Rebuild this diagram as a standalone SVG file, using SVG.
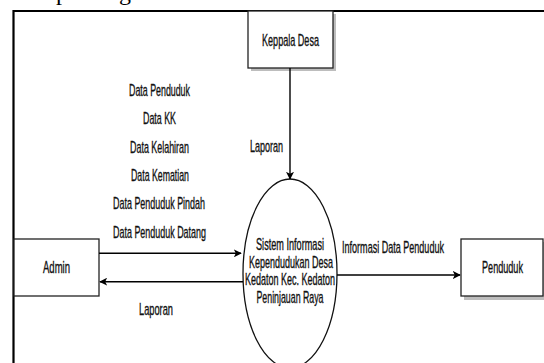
<svg xmlns="http://www.w3.org/2000/svg" width="544" height="363" viewBox="0 0 544 363">
<style>
.t{font-family:"Liberation Sans",Arial,sans-serif;font-size:16px;fill:#111;stroke:#111;stroke-width:0.35;text-anchor:middle}
.box{fill:#fff;stroke:#222;stroke-width:1.3}
.sh{fill:#bdbdbd}
.ln{stroke:#000;stroke-width:1.4;fill:none}
</style>
<defs>
<marker id="ah" viewBox="0 0 10 10" refX="9" refY="5" markerWidth="8" markerHeight="8" markerUnits="userSpaceOnUse" orient="auto">
<path d="M0,0 L10,5 L0,10 L2.5,5 Z" fill="#000"/>
</marker>
</defs>
<rect width="544" height="363" fill="#fff"/>
<text font-family="Liberation Serif,serif" font-size="24" fill="#000" y="0"><tspan x="56">p</tspan><tspan x="119">g</tspan></text>
<path d="M13.5,363 V11 H544" fill="none" stroke="#000" stroke-width="2.2"/>
<g id="keppala">
<rect class="sh" x="251" y="14" width="85" height="57"/>
<rect class="box" x="248" y="11" width="85" height="57"/>
<text class="t" transform="translate(290.5,45.5) scale(0.567,1)">Keppala Desa</text>
</g>
<g id="admin">
<rect class="box" x="14" y="239" width="85" height="57"/>
<text class="t" transform="translate(56.5,273) scale(0.596,1)">Admin</text>
</g>
<g id="penduduk">
<rect class="sh" x="464" y="242" width="80" height="58"/>
<rect class="box" x="461" y="239" width="82" height="57"/>
<text class="t" transform="translate(502.5,272.5) scale(0.569,1)">Penduduk</text>
</g>
<g id="sistem">
<ellipse cx="290" cy="273.5" rx="47" ry="94.5" fill="#fff" stroke="#111" stroke-width="1.3"/>
<text class="t" transform="translate(290,250) scale(0.571,1)">Sistem Informasi</text>
<text class="t" transform="translate(291,267.5) scale(0.562,1)">Kependudukan Desa</text>
<text class="t" transform="translate(290,285) scale(0.562,1)">Kedaton Kec. Kedaton</text>
<text class="t" transform="translate(290,302.5) scale(0.55,1)">Peninjauan Raya</text>
</g>
<g id="connectors">
<line class="ln" x1="290" y1="68" x2="290" y2="179" marker-end="url(#ah)"/>
<line class="ln" x1="99" y1="253.3" x2="241" y2="253.3" marker-end="url(#ah)"/>
<line class="ln" x1="243" y1="281.7" x2="100" y2="281.7" marker-end="url(#ah)"/>
<line class="ln" x1="337" y1="275" x2="460" y2="275" marker-end="url(#ah)"/>
<text class="t" transform="translate(266.5,152) scale(0.565,1)">Laporan</text>
<text class="t" transform="translate(159.5,96) scale(0.553,1)">Data Penduduk</text>
<text class="t" transform="translate(159.5,124) scale(0.554,1)">Data KK</text>
<text class="t" transform="translate(159.5,153) scale(0.558,1)">Data Kelahiran</text>
<text class="t" transform="translate(160,181) scale(0.548,1)">Data Kematian</text>
<text class="t" transform="translate(159,209) scale(0.559,1)">Data Penduduk Pindah</text>
<text class="t" transform="translate(159.5,237.5) scale(0.559,1)">Data Penduduk Datang</text>
<text class="t" transform="translate(156,315) scale(0.58,1)">Laporan</text>
<text class="t" transform="translate(393,253) scale(0.565,1)">Informasi Data Penduduk</text>
</g>
</svg>
